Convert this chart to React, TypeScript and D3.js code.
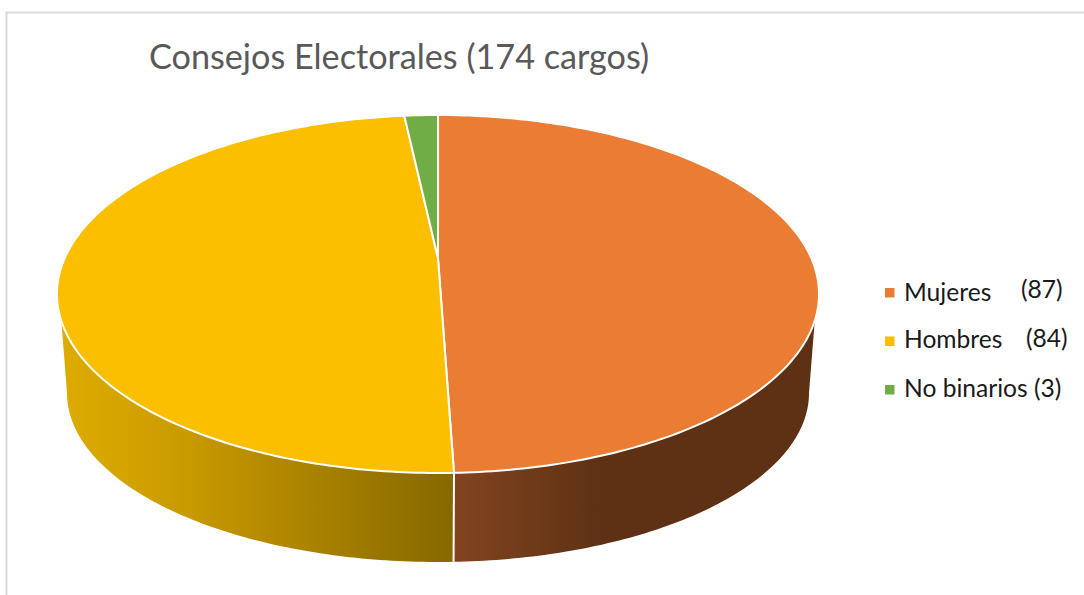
import * as d3 from "d3"

const categories = ["Mujeres", "Hombres", "No binarios"]
const values = [87, 84, 3]
const colors = ["#EB7C33", "#FBBF00", "#70AD47"]
const titleText = "Consejos Electorales (174 cargos)"

const W = 1084, H = 595
const font = "Lato, 'Open Sans', sans-serif"

// top face and bottom rim of the disc, both ellipses in unit coordinates
const topX = d3.scaleLinear().domain([-1, 1]).range([57, 819])
const topY = d3.scaleLinear().domain([-1, 1]).range([115, 473])
const botX = d3.scaleLinear().domain([-1, 1]).range([67, 809])
const botY = d3.scaleLinear().domain([-1, 1]).range([224, 562])
const center = -0.2 // where the pie centre lands on the vertical of the ellipse
const bend = 0.042  // the original's bottom seam sits a bit right of the centre

// clockwise angle on the flat disc -> angle on the drawn ellipse (perspective)
function project(a: number) {
  const X = Math.sin(a), Y = -Math.cos(a)
  const w = 1 + center * Y
  const x = X * Math.sqrt(1 - center * center) / w
  const y = (Y + center) / w
  let phi = Math.atan2(x, -y)
  if (phi < 0) phi += 2 * Math.PI
  if (a >= 2 * Math.PI - 1e-6) phi = 2 * Math.PI
  return phi - bend * (1 + y) / 2
}
const onTop = (phi: number): [number, number] => [topX(Math.sin(phi)), topY(-Math.cos(phi))]
const onBot = (phi: number): [number, number] => [botX(Math.sin(phi)), botY(-Math.cos(phi))]
const line = d3.line()

const arcPts = (a0: number, a1: number, f: (p: number) => [number, number]) => {
  const n = Math.max(2, Math.ceil(Math.abs(a1 - a0) * 60))
  return d3.range(n + 1).map(i => f(a0 + (a1 - a0) * i / n))
}

const slices = d3.pie<number>().sort(null)(values)
const apex: [number, number] = [topX(0), topY(center)]

const seam = project(slices[0].endAngle)
const rightEdge = 1.72, leftEdge = 4.56 // where the side wall leaves the top face

const wallOrange = [
  ...arcPts(rightEdge, seam, onTop),
  ...arcPts(seam, Math.PI / 2, onBot),
]
const wallYellow = [
  ...arcPts(seam, leftEdge, onTop),
  ...arcPts(Math.PI * 1.5, seam, onBot),
]

const legendRows = [
  { y: 301, sq: 288, count: `(${values[0]})`, cx: 1021, cy: 298 },
  { y: 348, sq: 336.5, count: `(${values[1]})`, cx: 1026, cy: 347 },
  { y: 397, sq: 385, count: `(${values[2]})`, cx: 0, cy: 0 },
]

export default function App() {
  return (
    <svg width={W} height={H} style={{ position: "absolute", left: 0, top: 0, display: "block", background: "#fff" }}>
      <defs>
        <linearGradient id="gOrange" gradientUnits="userSpaceOnUse" x1={454} x2={819} y1={0} y2={0}>
          <stop offset="0" stopColor="#82441F" />
          <stop offset="0.4" stopColor="#5E3114" />
          <stop offset="1" stopColor="#5E3114" />
        </linearGradient>
        <linearGradient id="gYellow" gradientUnits="userSpaceOnUse" x1={57} x2={454} y1={0} y2={0}>
          <stop offset="0" stopColor="#DEAC00" />
          <stop offset="0.3" stopColor="#CB9C00" />
          <stop offset="0.55" stopColor="#B38900" />
          <stop offset="1" stopColor="#866800" />
        </linearGradient>
      </defs>

      <path d={`M6.5 595V12.5H${W}`} fill="none" stroke="#D9D9D9" strokeWidth={2} />

      <text x={149} y={69} fontFamily={font} fontSize={34.2} fill="#595959">{titleText}</text>

      <path d={line(wallYellow) + "Z"} fill="url(#gYellow)" />
      <path d={line(wallOrange) + "Z"} fill="url(#gOrange)" />
      <path d={line([onTop(seam), onBot(seam)]) as string} stroke="#fff" strokeWidth={2} fill="none" />

      {slices.map((s, i) => (
        <path key={i} fill={colors[i]} stroke="#fff" strokeWidth={2} strokeLinejoin="round"
          d={line([apex, ...arcPts(project(s.startAngle), project(s.endAngle), onTop)]) + "Z"} />
      ))}

      {categories.map((c, i) => (
        <g key={c}>
          <rect x={885} y={legendRows[i].sq} width={9.5} height={9.5} fill={colors[i]} />
          <text x={904} y={legendRows[i].y} fontFamily={font} fontSize={24.6} fill="#1A1A1A">
            {i === 2 ? `${c} ${legendRows[i].count}` : c}
          </text>
          {i < 2 && (
            <text x={legendRows[i].cx} y={legendRows[i].cy} fontFamily={font} fontSize={24.6} fill="#1A1A1A">
              {legendRows[i].count}
            </text>
          )}
        </g>
      ))}
    </svg>
  )
}
